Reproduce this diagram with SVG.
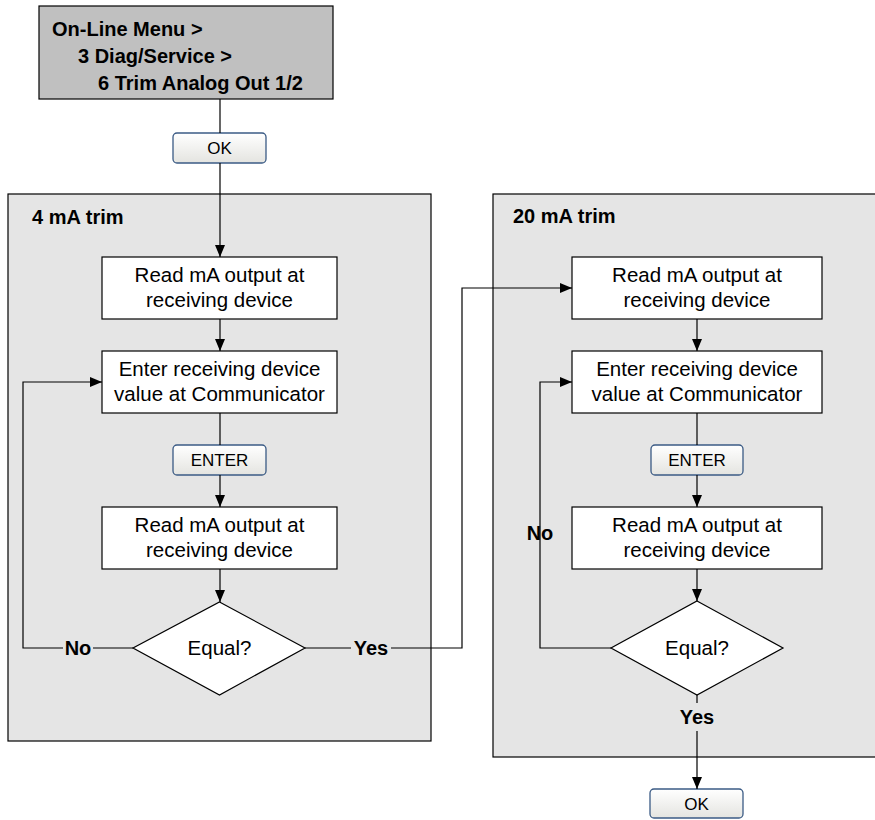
<svg xmlns="http://www.w3.org/2000/svg" width="875" height="820" viewBox="0 0 875 820">
  <defs>
    <linearGradient id="btnFill" x1="0" y1="0" x2="0" y2="1">
      <stop offset="0" stop-color="#ffffff"/>
      <stop offset="1" stop-color="#e4e4e0"/>
    </linearGradient>
    <marker id="arrow" viewBox="0 0 12 10" refX="12" refY="5" markerWidth="12" markerHeight="10" markerUnits="userSpaceOnUse" orient="auto">
      <path d="M0,0 L12,5 L0,10 Z" fill="#000"/>
    </marker>
  </defs>
  <style>
    .panel { fill: #e5e5e5; stroke: #000; stroke-width: 1.2; }
    .menu { fill: #c0c0c0; stroke: #000; stroke-width: 1.2; }
    .box { fill: #fff; stroke: #000; stroke-width: 1.2; }
    .btn { fill: url(#btnFill); stroke: #3b5b85; stroke-width: 1.3; }
    .txt { font-family: "Liberation Sans", Arial, sans-serif; font-size: 20.5px; fill: #000; text-anchor: middle; }
    .btxt { font-family: "Liberation Sans", Arial, sans-serif; font-size: 17px; fill: #000; text-anchor: middle; }
    .bold { font-family: "Liberation Sans", Arial, sans-serif; font-size: 20px; font-weight: bold; fill: #000; }
    .lbl { font-family: "Liberation Sans", Arial, sans-serif; font-size: 20px; font-weight: bold; fill: #000; text-anchor: middle; }
    .wire { fill: none; stroke: #000; stroke-width: 1.2; }
  </style>

  <!-- Background panels -->
  <g id="panel-4ma">
    <rect class="panel" x="8" y="194" width="423" height="547"/>
    <text class="bold" x="32" y="224">4 mA trim</text>
  </g>
  <g id="panel-20ma">
    <rect class="panel" x="493" y="194" width="390" height="563"/>
    <text class="bold" x="513" y="223">20 mA trim</text>
  </g>

  <!-- Menu path -->
  <g id="menu">
    <rect class="menu" x="39" y="6" width="294" height="93"/>
    <text class="bold" x="52" y="36">On-Line Menu &gt;</text>
    <text class="bold" x="78" y="63">3 Diag/Service &gt;</text>
    <text class="bold" x="98" y="90">6 Trim Analog Out 1/2</text>
  </g>

  <g id="ok-top">
    <rect class="btn" x="173" y="133" width="93" height="30" rx="4"/>
    <text class="btxt" x="219.5" y="154">OK</text>
  </g>

  <!-- 4 mA trim steps -->
  <g id="l-read1">
    <rect class="box" x="102" y="257" width="235" height="62"/>
    <text class="txt" x="219.5" y="282">Read mA output at</text>
    <text class="txt" x="219.5" y="307">receiving device</text>
  </g>
  <g id="l-enter">
    <rect class="box" x="102" y="351" width="235" height="62"/>
    <text class="txt" x="219.5" y="376">Enter receiving device</text>
    <text class="txt" x="219.5" y="401">value at Communicator</text>
  </g>
  <g id="l-enter-btn">
    <rect class="btn" x="173" y="445" width="93" height="30" rx="4"/>
    <text class="btxt" x="219.5" y="466">ENTER</text>
  </g>
  <g id="l-read2">
    <rect class="box" x="102" y="507" width="235" height="62"/>
    <text class="txt" x="219.5" y="532">Read mA output at</text>
    <text class="txt" x="219.5" y="557">receiving device</text>
  </g>
  <g id="l-equal">
    <polygon class="box" points="219.5,602 305,648 219.5,695 133,648"/>
    <text class="txt" x="219.5" y="655">Equal?</text>
  </g>

  <!-- 20 mA trim steps -->
  <g id="r-read1">
    <rect class="box" x="572" y="257" width="250" height="62"/>
    <text class="txt" x="697" y="282">Read mA output at</text>
    <text class="txt" x="697" y="307">receiving device</text>
  </g>
  <g id="r-enter">
    <rect class="box" x="572" y="351" width="250" height="62"/>
    <text class="txt" x="697" y="376">Enter receiving device</text>
    <text class="txt" x="697" y="401">value at Communicator</text>
  </g>
  <g id="r-enter-btn">
    <rect class="btn" x="651" y="445" width="92" height="30" rx="4"/>
    <text class="btxt" x="697" y="466">ENTER</text>
  </g>
  <g id="r-read2">
    <rect class="box" x="572" y="507" width="250" height="62"/>
    <text class="txt" x="697" y="532">Read mA output at</text>
    <text class="txt" x="697" y="557">receiving device</text>
  </g>
  <g id="r-equal">
    <polygon class="box" points="697,601 783,648 697,695 611,648"/>
    <text class="txt" x="697" y="655">Equal?</text>
  </g>
  <g id="ok-bottom">
    <rect class="btn" x="650" y="789" width="93" height="29" rx="4"/>
    <text class="btxt" x="696.5" y="810">OK</text>
  </g>

  <!-- Connectors -->
  <g id="connectors">
    <path class="wire" d="M220,99 V133"/>
    <path class="wire" d="M220,163 V257" marker-end="url(#arrow)"/>
    <path class="wire" d="M220,319 V351" marker-end="url(#arrow)"/>
    <path class="wire" d="M220,413 V445"/>
    <path class="wire" d="M220,475 V507" marker-end="url(#arrow)"/>
    <path class="wire" d="M220,569 V602" marker-end="url(#arrow)"/>
    <!-- No: back to entry step -->
    <path class="wire" d="M133,648 H93 M63,648 H23 V382 H102" marker-end="url(#arrow)"/>
    <!-- Yes: on to 20 mA trim -->
    <path class="wire" d="M305,648 H351 M391,648 H462 V288 H572" marker-end="url(#arrow)"/>

    <path class="wire" d="M697,319 V351" marker-end="url(#arrow)"/>
    <path class="wire" d="M697,413 V445"/>
    <path class="wire" d="M697,475 V507" marker-end="url(#arrow)"/>
    <path class="wire" d="M697,569 V601" marker-end="url(#arrow)"/>
    <!-- No: back to entry step -->
    <path class="wire" d="M611,648 H540 V382 H572" marker-end="url(#arrow)"/>
    <!-- Yes: finish -->
    <path class="wire" d="M697,695 V703 M697,731 V789" marker-end="url(#arrow)"/>
  </g>

  <!-- Branch labels -->
  <g id="labels">
    <text class="lbl" x="78" y="655">No</text>
    <text class="lbl" x="371" y="655">Yes</text>
    <text class="lbl" x="540" y="540">No</text>
    <text class="lbl" x="697" y="724">Yes</text>
  </g>
</svg>
